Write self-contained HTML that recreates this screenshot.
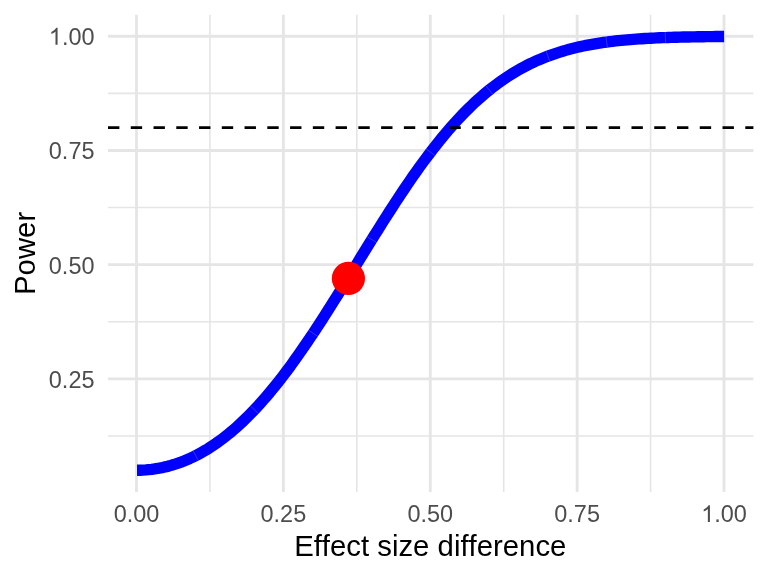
<!DOCTYPE html>
<html><head><meta charset="utf-8"><style>
html,body{margin:0;padding:0;background:#fff;}
svg{display:block;will-change:transform;}
text{font-family:"Liberation Sans",sans-serif;font-kerning:none;font-feature-settings:"kern" 0;}
</style></head><body>
<svg width="768" height="576" viewBox="0 0 768 576">
<rect width="768" height="576" fill="#fff"/>
<line x1="209.94" y1="14.8" x2="209.94" y2="491.95" stroke="#E5E5E5" stroke-width="1.6"/>
<line x1="356.82" y1="14.8" x2="356.82" y2="491.95" stroke="#E5E5E5" stroke-width="1.6"/>
<line x1="503.70" y1="14.8" x2="503.70" y2="491.95" stroke="#E5E5E5" stroke-width="1.6"/>
<line x1="650.58" y1="14.8" x2="650.58" y2="491.95" stroke="#E5E5E5" stroke-width="1.6"/>
<line x1="108.0" y1="436.00" x2="753.4" y2="436.00" stroke="#E5E5E5" stroke-width="1.6"/>
<line x1="108.0" y1="321.79" x2="753.4" y2="321.79" stroke="#E5E5E5" stroke-width="1.6"/>
<line x1="108.0" y1="207.57" x2="753.4" y2="207.57" stroke="#E5E5E5" stroke-width="1.6"/>
<line x1="108.0" y1="93.36" x2="753.4" y2="93.36" stroke="#E5E5E5" stroke-width="1.6"/>
<line x1="136.50" y1="14.8" x2="136.50" y2="491.95" stroke="#E5E5E5" stroke-width="2.85"/>
<line x1="283.38" y1="14.8" x2="283.38" y2="491.95" stroke="#E5E5E5" stroke-width="2.85"/>
<line x1="430.26" y1="14.8" x2="430.26" y2="491.95" stroke="#E5E5E5" stroke-width="2.85"/>
<line x1="577.14" y1="14.8" x2="577.14" y2="491.95" stroke="#E5E5E5" stroke-width="2.85"/>
<line x1="724.02" y1="14.8" x2="724.02" y2="491.95" stroke="#E5E5E5" stroke-width="2.85"/>
<line x1="108.0" y1="378.89" x2="753.4" y2="378.89" stroke="#E5E5E5" stroke-width="2.85"/>
<line x1="108.0" y1="264.68" x2="753.4" y2="264.68" stroke="#E5E5E5" stroke-width="2.85"/>
<line x1="108.0" y1="150.47" x2="753.4" y2="150.47" stroke="#E5E5E5" stroke-width="2.85"/>
<line x1="108.0" y1="36.26" x2="753.4" y2="36.26" stroke="#E5E5E5" stroke-width="2.85"/>
<polyline points="137.00,470.26 139.94,470.23 142.87,470.12 145.81,469.94 148.74,469.68 151.68,469.36 154.61,468.96 157.55,468.49 160.48,467.95 163.42,467.33 166.36,466.64 169.29,465.88 172.23,465.04 175.16,464.13 178.10,463.14 181.03,462.08 183.97,460.94 186.90,459.72 189.84,458.43 192.77,457.06 195.71,455.61 198.65,454.08 201.58,452.48 204.52,450.79 207.45,449.03 210.39,447.18 213.32,445.25 216.26,443.25 219.19,441.16 222.13,438.99 225.06,436.74 228.00,434.41 230.94,431.99 233.87,429.49 236.81,426.92 239.74,424.26 242.68,421.51 245.61,418.69 248.55,415.78 251.48,412.80 254.42,409.73 257.36,406.59 260.29,403.37 263.23,400.06 266.16,396.69 269.10,393.23 272.03,389.70 274.97,386.10 277.90,382.42 280.84,378.68 283.77,374.86 286.71,370.98 289.65,367.03 292.58,363.01 295.52,358.93 298.45,354.80 301.39,350.60 304.32,346.35 307.26,342.05 310.19,337.69 313.13,333.29 316.07,328.84 319.00,324.35 321.94,319.82 324.87,315.25 327.81,310.64 330.74,306.01 333.68,301.34 336.61,296.65 339.55,291.94 342.49,287.21 345.42,282.46 348.36,277.70 351.29,272.93 354.23,268.16 357.16,263.38 360.10,258.61 363.03,253.83 365.97,249.07 368.90,244.31 371.84,239.57 374.78,234.85 377.71,230.14 380.65,225.46 383.58,220.81 386.52,216.19 389.45,211.59 392.39,207.04 395.32,202.52 398.26,198.04 401.19,193.61 404.13,189.22 407.07,184.88 410.00,180.59 412.94,176.36 415.87,172.18 418.81,168.06 421.74,164.00 424.68,160.00 427.61,156.07 430.55,152.20 433.49,148.39 436.42,144.66 439.36,140.99 442.29,137.39 445.23,133.87 448.16,130.42 451.10,127.04 454.03,123.74 456.97,120.51 459.91,117.35 462.84,114.28 465.78,111.27 468.71,108.35 471.65,105.50 474.58,102.72 477.52,100.02 480.45,97.40 483.39,94.85 486.32,92.38 489.26,89.98 492.20,87.65 495.13,85.40 498.07,83.22 501.00,81.11 503.94,79.07 506.87,77.10 509.81,75.20 512.74,73.36 515.68,71.59 518.62,69.89 521.55,68.25 524.49,66.67 527.42,65.15 530.36,63.70 533.29,62.30 536.23,60.95 539.16,59.67 542.10,58.43 545.03,57.25 547.97,56.12 550.91,55.04 553.84,54.01 556.78,53.03 559.71,52.09 562.65,51.19 565.58,50.34 568.52,49.52 571.45,48.75 574.39,48.01 577.33,47.31 580.26,46.65 583.20,46.02 586.13,45.42 589.07,44.86 592.00,44.32 594.94,43.81 597.87,43.33 600.81,42.88 603.74,42.45 606.68,42.05 609.62,41.67 612.55,41.31 615.49,40.97 618.42,40.65 621.36,40.35 624.29,40.07 627.23,39.81 630.16,39.56 633.10,39.32 636.04,39.11 638.97,38.90 641.91,38.71 644.84,38.53 647.78,38.37 650.71,38.21 653.65,38.06 656.58,37.93 659.52,37.80 662.45,37.68 665.39,37.57 668.33,37.47 671.26,37.38 674.20,37.29 677.13,37.21 680.07,37.13 683.00,37.06 685.94,37.00 688.87,36.94 691.81,36.88 694.75,36.83 697.68,36.78 700.62,36.74 703.55,36.70 706.49,36.66 709.42,36.62 712.36,36.59 715.29,36.56 718.23,36.54 721.16,36.51 724.10,36.49" fill="none" stroke="#0000FF" stroke-width="11.38" stroke-linejoin="round" stroke-linecap="butt"/>
<line x1="198.16" y1="460.42" x2="193.26" y2="450.80" stroke="#fff" stroke-opacity="0.28" stroke-width="0.7"/>
<line x1="258.35" y1="413.44" x2="250.49" y2="406.03" stroke="#fff" stroke-opacity="0.28" stroke-width="0.7"/>
<line x1="317.63" y1="336.27" x2="308.63" y2="330.31" stroke="#fff" stroke-opacity="0.28" stroke-width="0.7"/>
<line x1="376.43" y1="242.42" x2="367.25" y2="236.73" stroke="#fff" stroke-opacity="0.28" stroke-width="0.7"/>
<line x1="434.84" y1="155.48" x2="426.26" y2="148.91" stroke="#fff" stroke-opacity="0.28" stroke-width="0.7"/>
<line x1="492.64" y1="94.19" x2="485.88" y2="85.77" stroke="#fff" stroke-opacity="0.28" stroke-width="0.7"/>
<line x1="549.86" y1="61.18" x2="546.08" y2="51.07" stroke="#fff" stroke-opacity="0.28" stroke-width="0.7"/>
<line x1="607.39" y1="47.40" x2="605.97" y2="36.69" stroke="#fff" stroke-opacity="0.28" stroke-width="0.7"/>
<line x1="665.58" y1="42.97" x2="665.20" y2="32.18" stroke="#fff" stroke-opacity="0.28" stroke-width="0.7"/>
<line x1="108.0" y1="127.63" x2="753.4" y2="127.63" stroke="#000" stroke-width="2.85" stroke-dasharray="11.38 11.38"/>
<circle cx="348.4" cy="278.4" r="16.6" fill="#FF0000"/>
<text transform="translate(136.50,522.10) scale(1,1.0)" text-anchor="middle" font-size="23.47" fill="#4D4D4D">0.00</text>
<text transform="translate(283.38,522.10) scale(1,1.0)" text-anchor="middle" font-size="23.47" fill="#4D4D4D">0.25</text>
<text transform="translate(430.26,522.10) scale(1,1.0)" text-anchor="middle" font-size="23.47" fill="#4D4D4D">0.50</text>
<text transform="translate(577.14,522.10) scale(1,1.0)" text-anchor="middle" font-size="23.47" fill="#4D4D4D">0.75</text>
<path transform="translate(701.18,522.1) scale(0.011460,-0.011460)" d="M763,0 L583,0 L583,1147 Q518,1085 412,1023 Q306,961 221,930 L221,1104 Q373,1175 487,1276 Q601,1377 649,1472 L763,1472 Z" fill="#4D4D4D"/>
<text transform="translate(746.86,522.10) scale(1,1.0)" text-anchor="end" font-size="23.47" fill="#4D4D4D">.00</text>
<text transform="translate(94.50,388.40) scale(1,1.0)" text-anchor="end" font-size="23.47" fill="#4D4D4D">0.25</text>
<text transform="translate(94.50,274.20) scale(1,1.0)" text-anchor="end" font-size="23.47" fill="#4D4D4D">0.50</text>
<text transform="translate(94.50,159.30) scale(1,1.0)" text-anchor="end" font-size="23.47" fill="#4D4D4D">0.75</text>
<path transform="translate(48.82,44.65) scale(0.011460,-0.011460)" d="M763,0 L583,0 L583,1147 Q518,1085 412,1023 Q306,961 221,930 L221,1104 Q373,1175 487,1276 Q601,1377 649,1472 L763,1472 Z" fill="#4D4D4D"/>
<text transform="translate(94.50,44.65) scale(1,1.0)" text-anchor="end" font-size="23.47" fill="#4D4D4D">.00</text>
<text transform="translate(294.14,556.00) scale(1,1.0)" text-anchor="start" font-size="29.33" fill="#000">E</text>
<text transform="translate(313.70,556.00) scale(1,1.0)" text-anchor="start" font-size="29.33" fill="#000">ffect size difference</text>
<g transform="translate(35.4,294.94) rotate(-90)"><text transform="translate(0.00,0.00) scale(1,1.0)" text-anchor="start" font-size="29.33" fill="#000">P</text><text transform="translate(19.56,0.00) scale(1,1.0)" text-anchor="start" font-size="29.33" fill="#000">ower</text></g>
</svg>
</body></html>
